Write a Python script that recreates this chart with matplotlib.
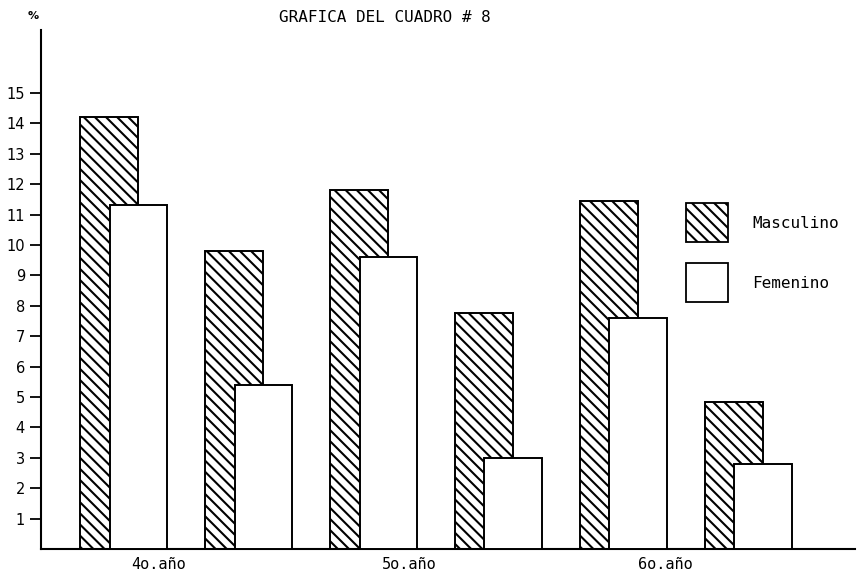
import numpy as np
import matplotlib; matplotlib.use("Agg")
import matplotlib.pyplot as plt
from matplotlib.patches import Rectangle

# values (%)
masculino = [14.2, 9.8, 11.8, 7.75, 11.45, 4.85]
femenino = [11.3, 5.4, 9.6, 3.0, 7.6, 2.8]
anios = ["4o.año", "5o.año", "6o.año"]
anio_pos = [0.4, 2.4, 4.45]
yticks = list(range(1, 16))
series = ["Masculino", "Femenino"]

MONO = "DejaVu Sans Mono"
HATCH = "\\\\\\"
plt.rcParams["hatch.linewidth"] = 1.5

W, H = 859, 576
fig = plt.figure(figsize=(W/100, H/100), dpi=100)
ax = fig.add_axes([41/W, 27/H, 814/W, 519/H])

x = np.arange(len(masculino))
w = 0.46
ax.bar(x, masculino, width=w, color="white", edgecolor="black", lw=1.4,
       hatch=HATCH, zorder=2)
ax.bar(x + 0.235, femenino, width=w, color="white", edgecolor="black", lw=1.4,
       zorder=3)

ax.set_xlim(-0.544, 5.97)
ax.set_ylim(0, 17.07)
for s in ["top", "right"]:
    ax.spines[s].set_visible(False)
ax.spines["left"].set_linewidth(1.5)
ax.spines["bottom"].set_linewidth(1.5)

ax.set_yticks(yticks)
ax.tick_params(axis="y", length=8, width=1.3, pad=3.5, labelsize=10.5)
ax.set_xticks(anio_pos, anios, fontfamily=MONO, fontsize=11)
ax.tick_params(axis="x", length=0, pad=6)

fig.text(385/W, 1 - 18/H, "GRAFICA DEL CUADRO # 8", family=MONO,
         fontsize=11.5, ha="center", va="center")
fig.text(33/W, 1 - 16/H, "%", fontsize=8, ha="center", va="center",
         weight="bold")

# hand-drawn style legend: swatches + labels
for (y0, label, hatch) in [(202, series[0], HATCH), (262, series[1], None)]:
    fig.add_artist(Rectangle((686/W, 1 - (y0 + 40)/H), 42/W, 39/H,
                             transform=fig.transFigure, facecolor="white",
                             edgecolor="black", lw=1.3, hatch=hatch))
    fig.text(752/W, 1 - (y0 + 21)/H, label, family=MONO, fontsize=11.5,
             ha="left", va="center")

fig.savefig("out.png", dpi=100)
